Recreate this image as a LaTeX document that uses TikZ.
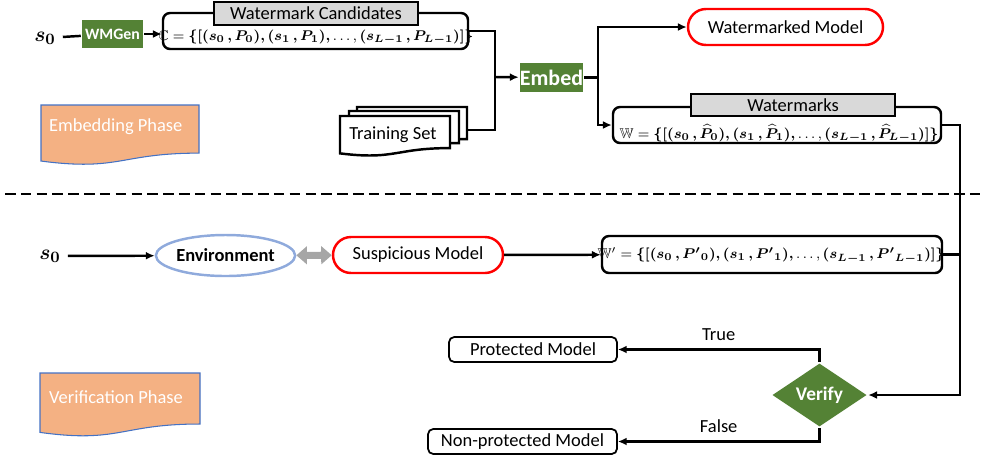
\documentclass[tikz,border=0pt]{standalone}
\usepackage{fontspec}
\setmainfont{Carlito}
\usepackage{amsmath,amssymb,bm}
\usetikzlibrary{shapes.geometric,shapes.misc,arrows.meta}

\definecolor{wmgreen}{HTML}{548235}
\definecolor{phaseorange}{HTML}{F4B183}
\definecolor{phaseblue}{HTML}{4472C4}
\definecolor{envblue}{HTML}{8FAADC}
\definecolor{taggrey}{HTML}{D9D9D9}
\definecolor{dblgrey}{HTML}{A6A6A6}

% document outline with the wavy bottom edge: x, y (top left), width, height
\newcommand{\docpath}[4]{(#1,#2) -- ({#1+#3},#2) -- ({#1+#3},{#2+0.802*#4})
  .. controls ({#1+0.5*#3},{#2+0.802*#4}) and ({#1+0.5*#3},{#2+1.107*#4})
  .. (#1,{#2+0.934*#4}) -- cycle}

\tikzset{
  greenbox/.style={fill=wmgreen, text=white, font=\bfseries, inner sep=0pt},
  setbox/.style={draw, rounded corners=4pt, inner sep=0pt},
  formula/.style={inner sep=0pt, font=\fontsize{8}{10}\selectfont},
  tagbox/.style={draw, fill=taggrey, line width=1pt, inner sep=0pt},
  modelbox/.style={draw=red, rounded rectangle, inner sep=0pt},
  outbox/.style={draw, rounded corners=3pt, line width=1pt, inner sep=0pt},
  phasetext/.style={anchor=west, text=white, font=\fontsize{10.5}{12}\selectfont},
  arr/.style={-{Latex[length=5pt,width=4.5pt]}},
}

\begin{document}
\begin{tikzpicture}[x=0.2mm, y=-0.2mm, line width=1.4pt,
  font=\fontsize{10.5}{12}\selectfont]

\useasboundingbox (0,0) rectangle (983,459);

%% embedding phase
\node[font=\fontsize{13}{15}\selectfont] (s0top) at (45,38) {$\bm{s_0}$};
\node[greenbox, minimum width=12.2mm, minimum height=5.6mm, font=\fontsize{9}{10}\selectfont\bfseries] (wmgen) at (112.5,34) {WMGen};

\node[setbox, minimum width=61mm, minimum height=7.2mm] (cset) at (315.5,31) {};
\node[formula] (cform) at (316,37.5)
  {$\mathbb{C} = \bm{\{[(s_0\,,P_0),(s_1\,,P_1),}\ldots,\bm{(s_{L-1}\,,P_{L-1})]\}}$};
\node[tagbox, minimum width=40.8mm, minimum height=4.6mm] (ctag) at (316,13.5) {Watermark Candidates};

% training set: three stacked sheets
\filldraw[fill=white] \docpath{357}{107}{110}{40};
\filldraw[fill=white] \docpath{349}{111}{110}{40};
\filldraw[fill=white] \docpath{340}{116}{110}{40};
\node (train) at (393,135) {Training Set};
\coordinate (trainR) at (467,130);

\coordinate (join) at (495,77);
\node[greenbox, minimum width=12.2mm, minimum height=5.8mm, font=\fontsize{12.5}{14}\selectfont\bfseries] (embed) at (551.5,77.5) {Embed};
\coordinate (split) at (598,77.5);

\node[modelbox, draw=red, minimum width=39mm, minimum height=7.2mm] (wmmodel) at (785.5,27) {Watermarked Model};

\node[setbox, minimum width=65.6mm, minimum height=7.2mm] (wset) at (777,125) {};
\node[formula] (wform) at (779,133.5)
  {$\mathbb{W} = \bm{\{[(s_0\,,\widehat{P}_0),(s_1\,,\widehat{P}_1),}\ldots,\bm{(s_{L-1}\,,\widehat{P}_{L-1})]\}}$};
\node[tagbox, minimum width=40.8mm, minimum height=4.4mm] (wtag) at (793,105) {Watermarks};

\draw (s0top) -- (wmgen);
\draw[arr] (wmgen.east) -- (wmgen.east -| cset.west);
\draw (cset.east) -| (join);
\draw (trainR) -| (join);
\draw[arr] (join) -- (embed);
\draw (embed) -- (split);
\draw[arr] (split) |- (wmmodel);
\draw[arr] (split) |- (wset.west);

% phase boxes
\filldraw[fill=phaseorange, draw=phaseblue, line width=0.6pt] \docpath{41}{105}{158}{60};
\node[phasetext] (embphase) at (42,127) {Embedding Phase};

\draw[dashed, line width=1.4pt, dash pattern=on 6pt off 3pt] (5,194) -- (983,194);

%% verification phase
\node[font=\fontsize{13}{15}\selectfont] (s0bot) at (50,256) {$\bm{s_0}$};
\node[ellipse, draw=envblue, line width=1.4pt, minimum width=23.4mm, minimum height=8.2mm, inner sep=0pt, font=\fontsize{10.5}{12}\selectfont\bfseries] (env) at (225.5,255.5) {Environment};
\node[modelbox, minimum width=34mm, minimum height=7.2mm] (susp) at (418,255) {Suspicious Model};

\node[setbox, minimum width=68mm, minimum height=7.4mm] (wpset) at (772,254.5) {};
\node[formula] (wpform) at (771,255.5)
  {$\mathbb{W}' = \bm{\{[(s_0\,,{P'}_0),(s_1\,,{P'}_1),}\ldots,\bm{(s_{L-1}\,,{P'}_{L-1})]\}}$};

\node[diamond, fill=wmgreen, text=white, minimum width=19mm, minimum height=12mm, inner sep=0pt, font=\fontsize{11}{13}\selectfont\bfseries] (verify) at (819.5,395) {Verify};
\node[outbox, minimum width=33.6mm, minimum height=5mm] (prot) at (533,349.5) {Protected Model};
\node[outbox, minimum width=37.8mm, minimum height=5mm] (nonprot) at (522.5,441.5) {Non-protected Model};
\coordinate (turn) at (960,395);

\draw[arr] (s0bot) -- (env);
\draw[{Triangle[length=6pt,width=10pt]}-{Triangle[length=6pt,width=10pt]}, line width=4pt, dblgrey] (env) -- (susp);
\draw[arr] (susp) -- (wpset);
\draw[arr] (wset.east) -| (turn) -- (verify.east);
\draw (wpset.east) -- (wpset.east -| turn);
\draw[arr] (verify.north) |- (prot) node[pos=0.75, above, yshift=1pt] {True};
\draw[arr] (verify.south) |- (nonprot) node[pos=0.75, above, yshift=1pt] {False};

\filldraw[fill=phaseorange, draw=phaseblue, line width=0.6pt] \docpath{40}{373}{160}{63.6};
\node[phasetext] (verphase) at (42,397) {Verification Phase};

\end{tikzpicture}
\end{document}
